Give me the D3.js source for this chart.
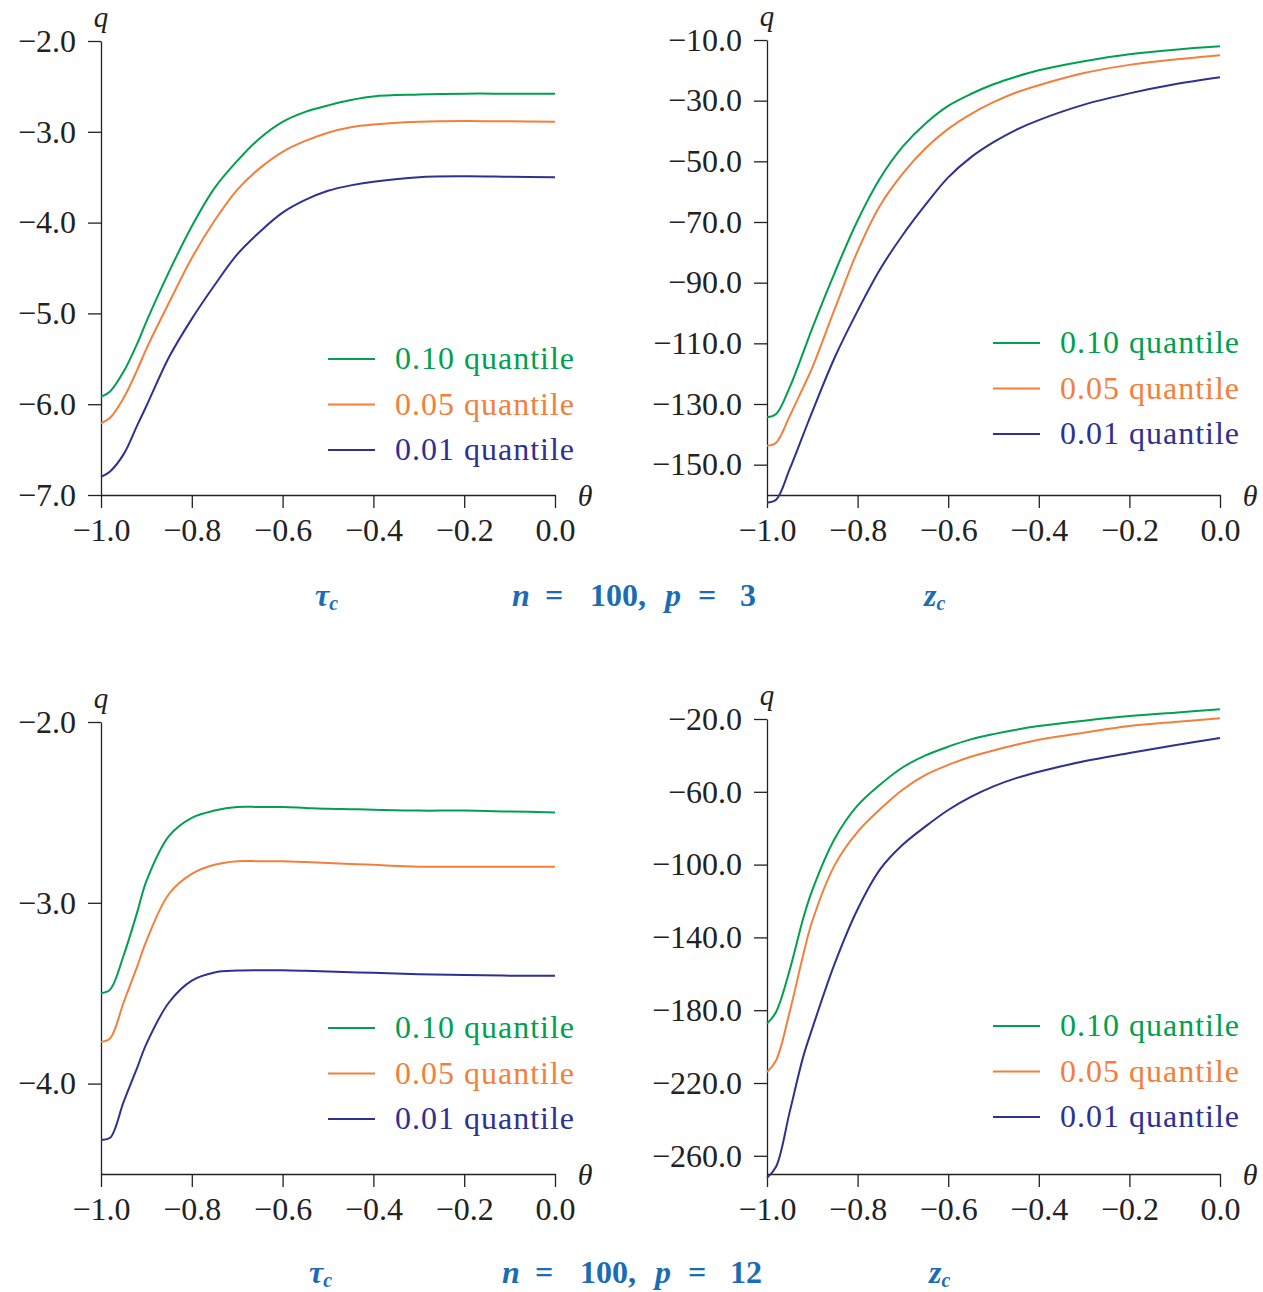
<!DOCTYPE html>
<html>
<head>
<meta charset="utf-8">
<script src="https://cdn.jsdelivr.net/npm/d3@7"></script>
<style>
  body { margin: 0; background: #fff; }
  svg text { font-family: "Liberation Serif", "DejaVu Serif", serif; }
</style>
</head>
<body>
<div id="chart"></div>
<script>
// theta grid shared by all four panels
var theta = [-1.0, -0.98, -0.95, -0.92, -0.9, -0.85, -0.8, -0.75, -0.7, -0.65, -0.6, -0.55, -0.5, -0.45, -0.4, -0.3, -0.2, -0.1, 0.0];

// n = 100, p = 3, tau_c
var tau3_q10 = [-5.92, -5.86, -5.64, -5.33, -5.09, -4.54, -4.04, -3.62, -3.32, -3.07, -2.89, -2.78, -2.71, -2.65, -2.61, -2.59, -2.58, -2.58, -2.58];
var tau3_q05 = [-6.21, -6.15, -5.93, -5.62, -5.39, -4.88, -4.39, -3.98, -3.64, -3.40, -3.22, -3.10, -3.01, -2.95, -2.92, -2.89, -2.88, -2.885, -2.89];
var tau3_q01 = [-6.80, -6.74, -6.55, -6.23, -6.02, -5.48, -5.06, -4.69, -4.35, -4.10, -3.89, -3.75, -3.65, -3.59, -3.55, -3.50, -3.49, -3.495, -3.50];

// n = 100, p = 3, z_c
var z3_q10 = [-134.4, -133.3, -124.5, -113.0, -105.0, -86.5, -69.5, -55.5, -45.1, -37.5, -31.7, -27.8, -24.6, -22.1, -20.0, -17.0, -14.7, -13.2, -12.1];
var z3_q05 = [-143.8, -142.8, -134.0, -124.5, -118.0, -98.5, -79.6, -64.5, -54.0, -45.7, -39.3, -34.4, -30.5, -27.3, -24.9, -20.9, -18.2, -16.4, -15.0];
var z3_q01 = [-162.5, -161.6, -151.5, -140.1, -132.5, -114.5, -99.3, -85.5, -74.2, -64.3, -55.3, -48.7, -43.7, -39.6, -36.4, -31.3, -27.6, -24.6, -22.3];

// n = 100, p = 12, tau_c
var tau12_q10 = [-3.50, -3.48, -3.29, -3.05, -2.88, -2.63, -2.53, -2.49, -2.47, -2.47, -2.47, -2.475, -2.48, -2.482, -2.485, -2.49, -2.49, -2.495, -2.50];
var tau12_q05 = [-3.77, -3.75, -3.55, -3.35, -3.21, -2.95, -2.84, -2.79, -2.77, -2.77, -2.77, -2.775, -2.78, -2.785, -2.79, -2.80, -2.80, -2.80, -2.80];
var tau12_q01 = [-4.31, -4.30, -4.10, -3.91, -3.78, -3.55, -3.43, -3.385, -3.375, -3.373, -3.373, -3.376, -3.38, -3.384, -3.387, -3.395, -3.40, -3.403, -3.403];

// n = 100, p = 12, z_c
var z12_q10 = [-187.4, -181.0, -158.0, -129.5, -114.0, -85.5, -67.5, -56.0, -46.5, -40.0, -35.2, -31.2, -28.3, -25.9, -23.9, -20.9, -18.4, -16.5, -14.7];
var z12_q05 = [-214.0, -207.6, -181.0, -149.5, -131.0, -100.0, -82.0, -69.5, -58.7, -50.7, -45.2, -40.7, -37.3, -34.2, -31.4, -27.5, -23.9, -21.6, -19.6];
var z12_q01 = [-272.0, -266.0, -236.0, -205.5, -190.0, -154.0, -124.5, -102.5, -89.0, -79.0, -70.0, -62.8, -57.0, -52.5, -49.0, -43.2, -38.7, -34.4, -30.4];

// tick labels
var xTicks = [-1.0, -0.8, -0.6, -0.4, -0.2, 0.0];
var yTicksTau3 = [-7, -6, -5, -4, -3, -2];
var yTicksZ3 = [-150, -130, -110, -90, -70, -50, -30, -10];
var yTicksTau12 = [-4, -3, -2];
var yTicksZ12 = [-260, -220, -180, -140, -100, -60, -20];

var seriesNames = ["0.10 quantile", "0.05 quantile", "0.01 quantile"];
var colors = ["#00a04f", "#f37f3b", "#2e3192"];

var svg = d3.select("#chart")
    .append("svg")
    .attr("width", 1263)
    .attr("height", 1292);

var panels = [
  {left: 101, right: 555, top: 41, bottom: 495, yDomain: [-7, -2], yTicks: yTicksTau3,
   series: [tau3_q10, tau3_q05, tau3_q01], legendY: 359},
  {left: 767, right: 1220, top: 40, bottom: 495, yDomain: [-160, -10], yTicks: yTicksZ3,
   series: [z3_q10, z3_q05, z3_q01], legendY: 343},
  {left: 101, right: 555, top: 722, bottom: 1174, yDomain: [-4.5, -2], yTicks: yTicksTau12,
   series: [tau12_q10, tau12_q05, tau12_q01], legendY: 1028},
  {left: 767, right: 1220, top: 719, bottom: 1174, yDomain: [-270, -20], yTicks: yTicksZ12,
   series: [z12_q10, z12_q05, z12_q01], legendY: 1026}
];

var fmt = d3.format(".1f");

panels.forEach(function(p) {
  var x = d3.scaleLinear().domain([-1, 0]).range([p.left, p.right]);
  var y = d3.scaleLinear().domain(p.yDomain).range([p.bottom, p.top]);

  var g = svg.append("g");

  var xAxis = g.append("g")
      .attr("transform", "translate(0," + p.bottom + ")")
      .call(d3.axisBottom(x).tickValues(xTicks).tickFormat(fmt)
        .tickSize(13).tickSizeOuter(0).tickPadding(10));

  var yAxis = g.append("g")
      .attr("transform", "translate(" + p.left + ",0)")
      .call(d3.axisLeft(y).tickValues(p.yTicks).tickFormat(fmt)
        .tickSize(13).tickSizeOuter(0).tickPadding(12));

  [xAxis, yAxis].forEach(function(a) {
    a.select(".domain").attr("stroke", "#222").attr("stroke-width", 1.3);
    a.selectAll(".tick line").attr("stroke", "#222").attr("stroke-width", 1.3);
    a.selectAll(".tick text")
      .attr("fill", "#222")
      .style("font-size", "32px")
      .style("font-family", "'Liberation Serif', serif");
  });

  // axis letters
  g.append("text")
      .attr("x", p.left)
      .attr("y", p.top - 14)
      .attr("text-anchor", "middle")
      .attr("fill", "#222")
      .style("font-size", "29px")
      .style("font-style", "italic")
      .text("q");

  g.append("text")
      .attr("x", p.right + 30)
      .attr("y", p.bottom + 11)
      .attr("text-anchor", "middle")
      .attr("fill", "#222")
      .style("font-size", "30px")
      .style("font-style", "italic")
      .text("θ");

  var line = d3.line()
      .x(function(d, i) { return x(theta[i]); })
      .y(function(d) { return y(d); })
      .curve(d3.curveCatmullRom.alpha(0.5));

  p.series.forEach(function(s, k) {
    g.append("path")
        .datum(s)
        .attr("fill", "none")
        .attr("stroke", colors[k])
        .attr("stroke-width", 2)
        .attr("d", line);
  });

  // legend
  var leg = g.append("g");
  seriesNames.forEach(function(name, k) {
    var ly = p.legendY + k * 45.5;
    leg.append("line")
        .attr("x1", p.right - 227).attr("x2", p.right - 180)
        .attr("y1", ly).attr("y2", ly)
        .attr("stroke", colors[k])
        .attr("stroke-width", 2);
    leg.append("text")
        .attr("x", p.right + 20)
        .attr("y", ly + 10)
        .attr("text-anchor", "end")
        .attr("fill", colors[k])
        .style("font-size", "32px")
        .style("letter-spacing", "1px")
        .text(name);
  });
});

// captions under each row
var capColor = "#1a6db4";
function caption(yBase, tauX, nX, zX, pVal) {
  var t = svg.append("text")
      .attr("x", tauX).attr("y", yBase)
      .attr("fill", capColor)
      .style("font-size", "32px")
      .style("font-weight", "bold")
      .style("font-style", "italic");
  t.append("tspan").text("τ");
  t.append("tspan").attr("dy", 4).style("font-size", "20px").text("c");

  var n = svg.append("text")
      .attr("y", yBase)
      .attr("fill", capColor)
      .style("font-size", "32px")
      .style("font-weight", "bold");
  n.append("tspan").attr("x", nX).style("font-style", "italic").text("n");
  n.append("tspan").attr("x", nX + 33).text("=");
  n.append("tspan").attr("x", nX + 78).text("100,");
  n.append("tspan").attr("x", nX + 153).style("font-style", "italic").text("p");
  n.append("tspan").attr("x", nX + 186).text("=");
  n.append("tspan").attr("x", nX + 228).text(pVal);

  var z = svg.append("text")
      .attr("x", zX).attr("y", yBase)
      .attr("fill", capColor)
      .style("font-size", "32px")
      .style("font-weight", "bold")
      .style("font-style", "italic");
  z.append("tspan").text("z");
  z.append("tspan").attr("dy", 4).style("font-size", "20px").text("c");
}

caption(606, 315, 512, 924, "3");
caption(1283, 309, 502, 929, "12");
</script>
</body>
</html>
